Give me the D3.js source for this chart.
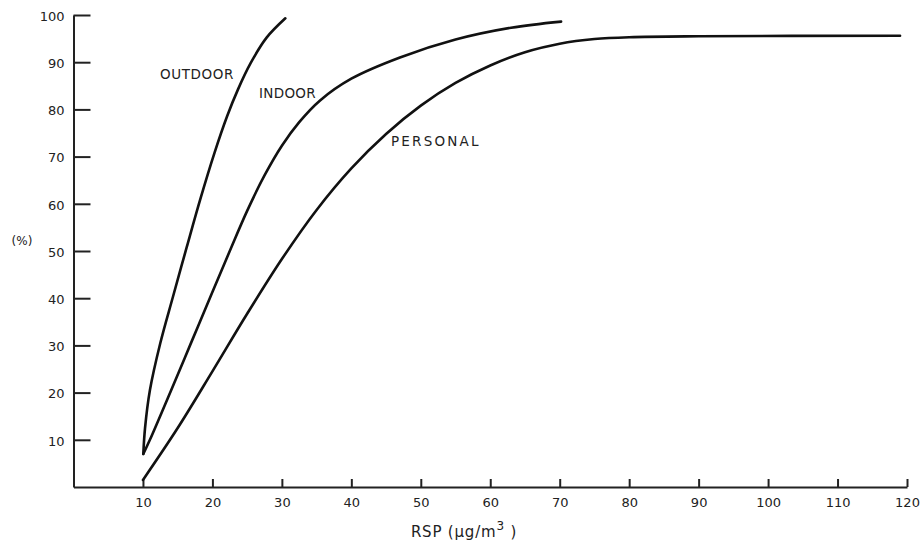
<!DOCTYPE html>
<html>
<head>
<meta charset="utf-8">
<script src="https://cdn.jsdelivr.net/npm/d3@7"></script>
<style>
  body { margin: 0; background: #fff; }
  svg text { font-family: "DejaVu Sans", "Liberation Sans", sans-serif; fill: #222; }
</style>
</head>
<body>
<div id="chart"></div>
<script>
// RSP concentration (ug/m3) vs cumulative percent
var outdoorX = [10.05, 10.3, 11, 12.5, 14.3, 16.3, 18.3, 20.3, 22.1, 23.7, 25.5, 27.8, 30.5];
var outdoorY = [7, 12.5, 20.5, 30.5, 40.2, 50.8, 61.2, 70.8, 78.5, 84.3, 89.8, 95.2, 99.3];

var indoorX = [10.05, 11, 14, 17, 20, 22.5, 25, 27.5, 30, 32.5, 35.5, 40, 47, 55, 63, 70.2];
var indoorY = [7, 10, 20.3, 30.8, 41.3, 50, 58.5, 66, 72.3, 77.3, 81.9, 86.5, 91, 94.8, 97.3, 98.6];

var personalX = [10, 15, 20, 25, 30, 35, 40, 45, 50, 55, 60, 65, 70, 75, 80, 90, 119];
var personalY = [1.5, 12.5, 24.5, 36.7, 48.3, 58.7, 67.5, 74.8, 80.8, 85.6, 89.3, 92.1, 93.9, 94.9, 95.3, 95.5, 95.6];

var xTicks = [10, 20, 30, 40, 50, 60, 70, 80, 90, 100, 110, 120];
var yTicks = [10, 20, 30, 40, 50, 60, 70, 80, 90, 100];

var width = 920,
    height = 541;

var svg = d3.select("#chart").append("svg")
    .attr("width", width)
    .attr("height", height);

/*
 * Scales: axis origin sits at (74, 487).
 */
var x = d3.scaleLinear().domain([0, 120]).range([73.5, 907]);
var y = d3.scaleLinear().domain([0, 100]).range([487, 15]);

/*
 * Axes, ticks pointing inwards like the old plot.
 */
var xAxis = d3.axisBottom(x)
    .tickValues(xTicks)
    .tickSize(-8)
    .tickPadding(13)
    .tickSizeOuter(0);

var yAxis = d3.axisLeft(y)
    .tickValues(yTicks)
    .tickSize(-17)
    .tickPadding(9)
    .tickSizeOuter(0);

var gx = svg.append("g")
    .attr("transform", "translate(0," + y(0) + ")")
    .call(xAxis);

var gy = svg.append("g")
    .attr("transform", "translate(" + x(0) + ",0)")
    .call(yAxis);

[gx, gy].forEach(function(g) {
    g.select(".domain").attr("stroke", "#222").attr("stroke-width", 2);
    g.selectAll(".tick line").attr("stroke", "#222").attr("stroke-width", 2);
    g.selectAll(".tick text")
        .attr("font-size", 13)
        .style("font-family", "'DejaVu Sans', sans-serif")
        .attr("fill", "#333");
});
gy.selectAll(".tick text").attr("dy", "0.4em");
gx.selectAll(".tick text").attr("dy", "0.55em");

/*
 * Axis titles.
 */
svg.append("text")
    .attr("x", 22)
    .attr("y", 245)
    .attr("text-anchor", "middle")
    .attr("font-size", 12)
    .text("(%)");

var xt = svg.append("text")
    .attr("x", 464)
    .attr("y", 537)
    .attr("text-anchor", "middle")
    .attr("font-size", 15)
    .attr("letter-spacing", 0.8)
    .text("RSP (");
xt.append("tspan").text("\u03bcg/m");
xt.append("tspan").attr("dy", -7).attr("font-size", 12).text("3");
xt.append("tspan").attr("dy", 7).text(" )");

/*
 * Curves.
 */
var series = [
    { name: "OUTDOOR", xs: outdoorX, ys: outdoorY, lx: 160, ly: 79, sp: 0.6 },
    { name: "INDOOR", xs: indoorX, ys: indoorY, lx: 259, ly: 98, sp: 0.3 },
    { name: "PERSONAL", xs: personalX, ys: personalY, lx: 391, ly: 146, sp: 2.2 }
];

var line = d3.line()
    .x(function(d) { return x(d[0]); })
    .y(function(d) { return y(d[1]); })
    .curve(d3.curveCatmullRom.alpha(0.5));

svg.selectAll(".curve")
    .data(series)
    .enter().append("path")
    .attr("class", "curve")
    .attr("fill", "none")
    .attr("stroke", "#111")
    .attr("stroke-width", 2.6)
    .attr("stroke-linecap", "round")
    .attr("stroke-linejoin", "round")
    .attr("d", function(s) { return line(s.xs.map(function(v, i) { return [v, s.ys[i]]; })); });

svg.selectAll(".lbl")
    .data(series)
    .enter().append("text")
    .attr("class", "lbl")
    .attr("x", function(s) { return s.lx; })
    .attr("y", function(s) { return s.ly; })
    .attr("font-size", 13.5)
    .attr("letter-spacing", function(s) { return s.sp; })
    .text(function(s) { return s.name; });
</script>
</body>
</html>
